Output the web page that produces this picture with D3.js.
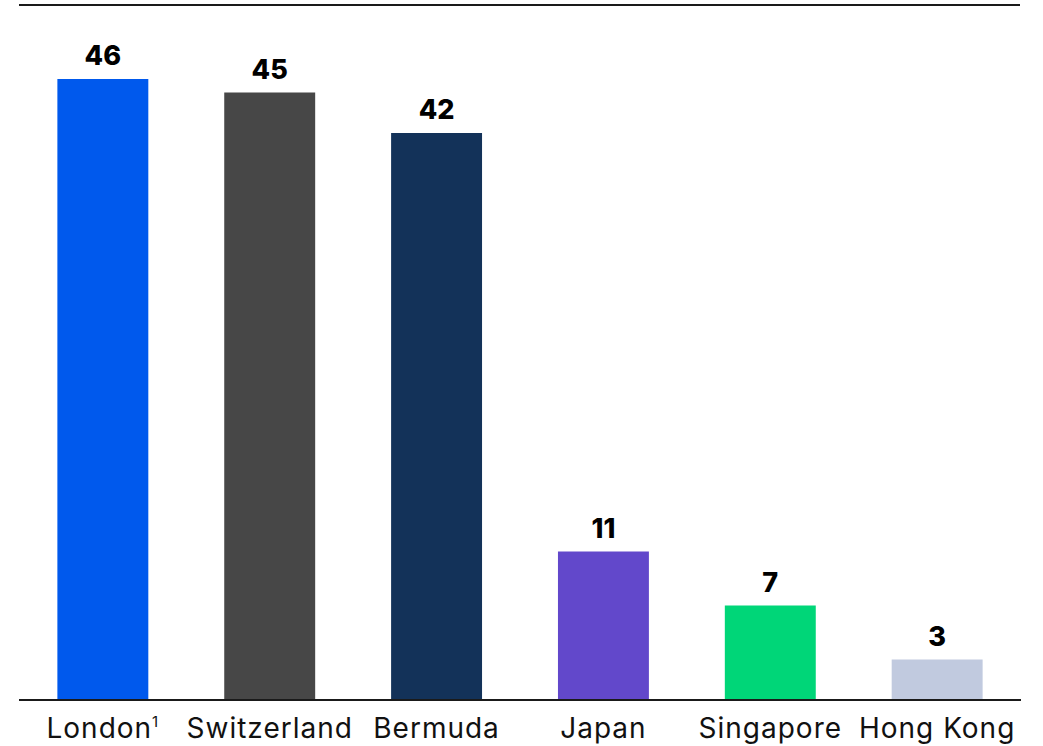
<!DOCTYPE html>
<html>
<head>
<meta charset="utf-8">
<script src="https://cdn.jsdelivr.net/npm/d3@7"></script>
<style>
  html, body { margin: 0; padding: 0; background: #ffffff; }
  svg { display: block; }
</style>
</head>
<body>
<svg id="chart" width="1043" height="746"></svg>
<script>
// Chart data
const categories = ["London", "Switzerland", "Bermuda", "Japan", "Singapore", "Hong Kong"];
const values = [46, 45, 42, 11, 7, 3];
const barColors = ["#0059ED", "#474747", "#133259", "#6248CB", "#00D678", "#C1CADF"];
const footnoteMarks = ["1", "", "", "", "", ""];

const svg = d3.select("#chart");
const left = 19, right = 1021;
const baseY = 700;

const x = d3.scaleBand()
  .domain(categories)
  .range([left, right])
  .paddingInner(0.455)
  .paddingOuter(0.23);

const y = d3.scaleLinear()
  .domain([0, 46])
  .range([baseY, baseY - 46 * 13.5]);

// top rule
svg.append("line")
  .attr("x1", left).attr("x2", right - 1)
  .attr("y1", 5).attr("y2", 5)
  .attr("stroke", "#1a1a1a").attr("stroke-width", 2);

// bars
svg.append("g").selectAll("rect")
  .data(categories)
  .join("rect")
  .attr("x", d => x(d))
  .attr("width", x.bandwidth())
  .attr("y", (d, i) => y(values[i]))
  .attr("height", (d, i) => y(0) - y(values[i]))
  .attr("fill", (d, i) => barColors[i]);

// value labels
svg.append("g").selectAll("text")
  .data(categories)
  .join("text")
  .attr("x", d => x(d) + x.bandwidth() / 2)
  .attr("y", (d, i) => y(values[i]) - 14)
  .attr("text-anchor", "middle")
  .attr("font-family", "Inter, 'Open Sans', sans-serif")
  .attr("font-weight", 800)
  .attr("font-size", 27)
  .attr("fill", "#000")
  .text((d, i) => values[i]);

// baseline axis
const xAxis = d3.axisBottom(x).tickSize(0).tickPadding(0).tickFormat("");
const axisG = svg.append("g")
  .attr("transform", `translate(0,${baseY})`)
  .call(xAxis);
axisG.select(".domain")
  .attr("d", `M${left},0H${right}`)
  .attr("stroke", "#1a1a1a")
  .attr("stroke-width", 2);

// category labels
const labels = svg.append("g").selectAll("text")
  .data(categories)
  .join("text")
  .attr("x", d => x(d) + x.bandwidth() / 2)
  .attr("y", 738)
  .attr("text-anchor", "middle")
  .attr("font-family", "Inter, 'Open Sans', sans-serif")
  .attr("font-weight", 400)
  .attr("font-size", 28)
  .attr("letter-spacing", 1)
  .attr("fill", "#111");

labels.each(function(d, i) {
  const t = d3.select(this);
  t.append("tspan").text(d);
  if (footnoteMarks[i]) {
    t.append("tspan")
      .attr("font-size", 15)
      .attr("dy", -11)
      .text(footnoteMarks[i]);
  }
});
</script>
</body>
</html>
